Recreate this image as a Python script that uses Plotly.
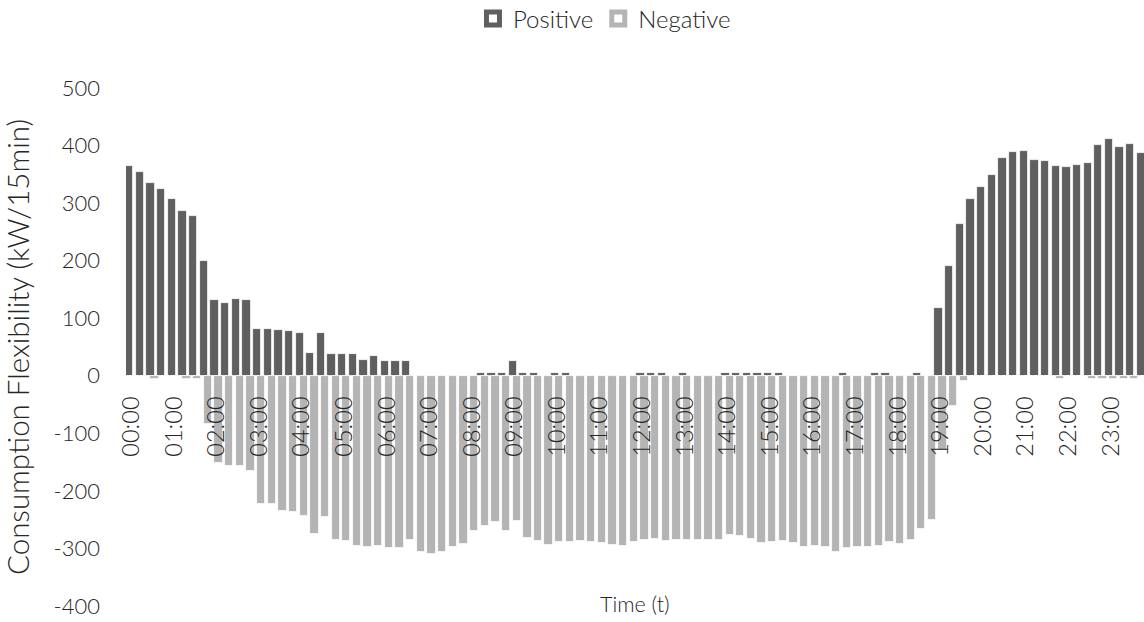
import plotly.graph_objects as go

# 15-minute slots over one day
SLOTS = [f"{h:02d}:{m:02d}" for h in range(24) for m in (0, 15, 30, 45)]
HOUR_LABELS = [f"{h:02d}:00" for h in range(24)]

# Upward (positive) consumption flexibility, kW per 15 min
POSITIVE = [
    365, 354, 335, 325, 307, 287, 277, 200, 132, 127, 134, 131,
    81, 81, 79, 77, 75, 39, 74, 37, 37, 37, 27, 35,
    26, 26, 26, 0, 0, 0, 0, 0, 0, 5, 5, 5,
    26, 5, 5, 0, 5, 5, 0, 0, 0, 0, 0, 0,
    5, 5, 5, 0, 5, 0, 0, 0, 5, 5, 5, 5,
    5, 5, 0, 0, 0, 0, 0, 5, 0, 0, 5, 5,
    0, 0, 5, 0, 118, 190, 264, 308, 328, 348, 379, 389,
    390, 375, 374, 365, 362, 366, 370, 401, 412, 398, 403, 387,
]

# Downward (negative) consumption flexibility, kW per 15 min
NEGATIVE = [
    0, 0, -5, 0, 0, -5, -5, -83, -151, -156, -156, -166,
    -222, -223, -235, -236, -244, -275, -245, -285, -287, -296, -297, -295,
    -299, -299, -286, -306, -310, -306, -298, -292, -269, -261, -254, -270,
    -252, -281, -287, -294, -289, -289, -287, -288, -291, -294, -295, -288,
    -285, -283, -287, -285, -285, -285, -285, -285, -277, -278, -283, -291,
    -289, -287, -291, -297, -296, -298, -306, -299, -298, -297, -296, -288,
    -292, -286, -266, -250, -129, -53, -9, 0, 0, 0, 0, 0,
    0, 0, 0, -5, 0, 0, -5, -5, -5, -5, -5, 0,
]

Y_TICKS = [500, 400, 300, 200, 100, 0, -100, -200, -300, -400]
Y_TICK_TEXT = ["500", "400", "300", "200", "100", "0", "-100", "-200", "-300", "-400"]

DARK = "#5f5f5f"
LIGHT = "#b4b4b4"
TEXT = "#262626"
FONT = "Lato"

fig = go.Figure()

fig.add_trace(go.Bar(
    x=SLOTS, y=POSITIVE, name="Positive", showlegend=False,
    marker=dict(color=DARK, line=dict(color="white", width=0.8)),
    width=0.78, offset=-0.58,
))
fig.add_trace(go.Bar(
    x=SLOTS, y=NEGATIVE, name="Negative", showlegend=False,
    marker=dict(color=LIGHT, line=dict(color="white", width=0.8)),
    width=0.78, offset=-0.2,
))

# legend entries: filled squares with a white core
for name, col in (("Positive", DARK), ("Negative", LIGHT)):
    fig.add_trace(go.Scatter(
        x=[None], y=[None], mode="markers", name=name,
        marker=dict(symbol="square", size=13, color="white",
                    line=dict(color=col, width=6)),
    ))

fig.update_layout(
    width=1144, height=622,
    margin=dict(l=126, r=0, t=88, b=16, autoexpand=False),
    paper_bgcolor="white", plot_bgcolor="white",
    barmode="overlay", bargap=0,
    font=dict(family=FONT, color=TEXT, size=21, weight=300),
    showlegend=True,
    legend=dict(
        orientation="h", xref="paper", x=0.47, xanchor="center",
        yref="container", y=1 - 19 / 622, yanchor="middle",
        font=dict(size=24, color=TEXT, family=FONT, weight=300),
        itemwidth=30, tracegroupgap=0,
    ),
    xaxis=dict(
        type="category", categoryorder="array", categoryarray=SLOTS,
        range=[-0.5, 95.1],
        tickmode="array", tickvals=SLOTS[::4], ticktext=HOUR_LABELS,
        tickangle=-90, ticks="", showline=False, showgrid=False, zeroline=False,
        anchor="free", position=400 / 900,
        ticklabelstandoff=15,
        tickfont=dict(size=23.5, color=TEXT, family=FONT, weight=300),
    ),
    yaxis=dict(
        range=[-400, 500], tickmode="array", tickvals=Y_TICKS, ticktext=Y_TICK_TEXT,
        ticks="", showline=False, showgrid=False, zeroline=False,
        ticklabelstandoff=25,
        tickfont=dict(size=22, color=TEXT, family=FONT, weight=300),
        title=dict(text="Consumption Flexibility (kW/15min)",
                   font=dict(size=29.5, color=TEXT, family=FONT, weight=300),
                   standoff=16),
    ),
    annotations=[dict(
        text="Time (t)", xref="paper", yref="paper",
        x=0.5, y=0.004, xanchor="center", yanchor="middle", showarrow=False,
        font=dict(size=21.5, color=TEXT, family=FONT, weight=300),
    )],
)

fig.write_html("out.html")
